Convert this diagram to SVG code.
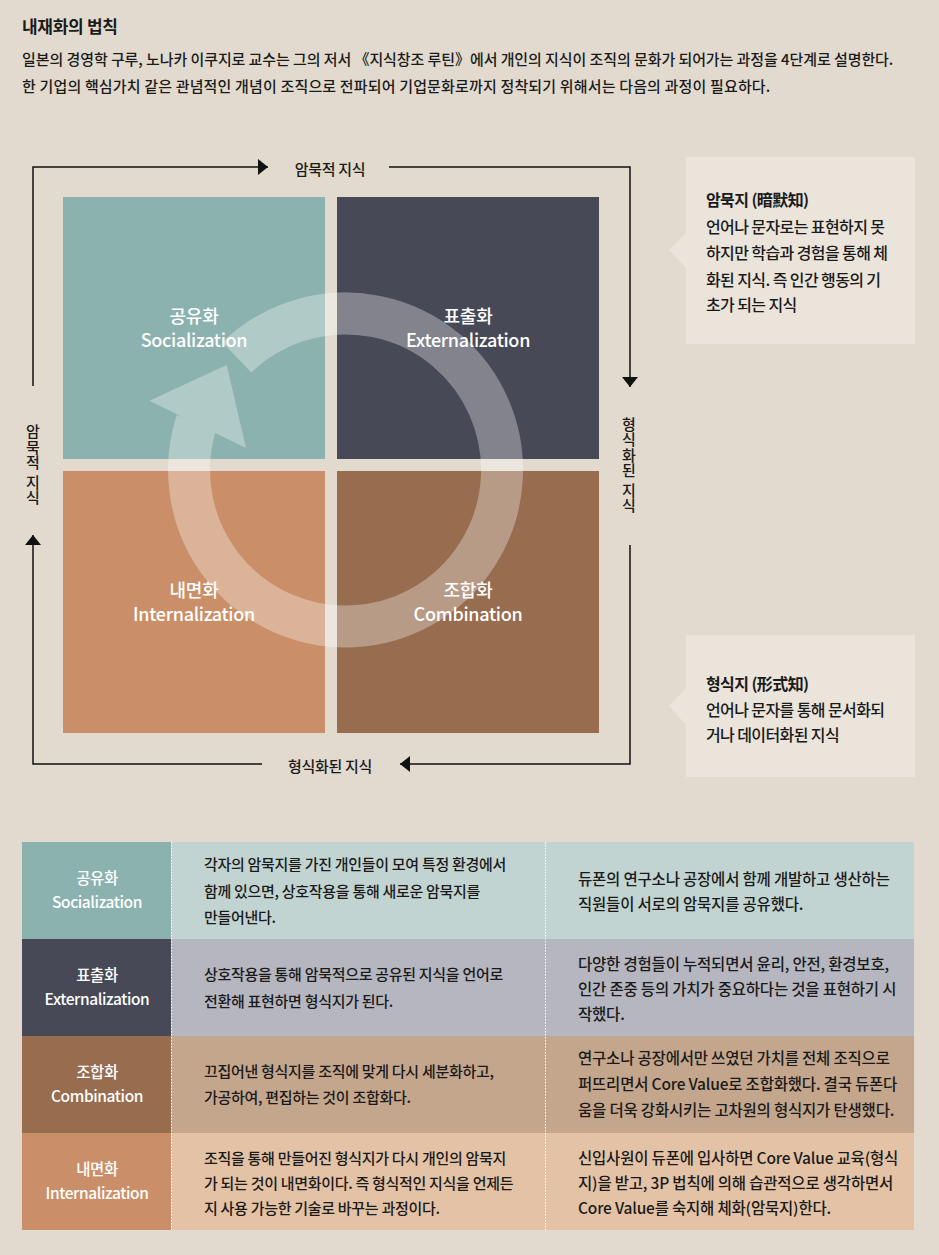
<svg xmlns="http://www.w3.org/2000/svg" width="939" height="1255" viewBox="0 0 939 1255">
<style>
text{font-family:"Noto Sans CJK KR","Noto Sans",sans-serif;fill:#1a1a1a;font-weight:500;letter-spacing:-0.3px}
.t{font-size:15px}
.co{font-size:16px;letter-spacing:-0.6px}
.b{font-weight:bold}
.w{fill:#fff;text-anchor:middle}
.q{font-size:18px;letter-spacing:-0.3px}
.tl{font-size:15.5px;letter-spacing:-0.4px}
.c2{font-size:15px;letter-spacing:-0.3px}
.c3{font-size:15.5px;letter-spacing:-0.2px}
.v{writing-mode:vertical-rl;text-anchor:middle;font-size:15px;letter-spacing:0.5px}
.ln{stroke:#111;stroke-width:1.5;fill:none}
.sep{stroke:#fff;stroke-width:1;stroke-dasharray:1.5 1.5}
</style>
<defs>
<marker id="ah" viewBox="0 0 10 16" refX="10" refY="8" markerWidth="10" markerHeight="16" markerUnits="userSpaceOnUse" orient="auto"><path d="M0,0L10,8L0,16Z" fill="#111"/></marker>
</defs>
<rect width="939" height="1255" fill="#E2DACE"/>
<g id="header">
<text x="22" y="33" class="b" style="font-size:17px">내재화의 법칙</text>
<text x="22" y="65" class="t" textLength="871">일본의 경영학 구루, 노나카 이쿠지로 교수는 그의 저서 《지식창조 루틴》에서 개인의 지식이 조직의 문화가 되어가는 과정을 4단계로 설명한다.</text>
<text x="22" y="92" class="t" textLength="748">한 기업의 핵심가치 같은 관념적인 개념이 조직으로 전파되어 기업문화로까지 정착되기 위해서는 다음의 과정이 필요하다.</text>
</g>
<g id="connectors">
<path class="ln" d="M33,386V167H268" marker-end="url(#ah)"/>
<path class="ln" d="M389,167H630V387" marker-end="url(#ah)"/>
<path class="ln" d="M630,545V764H400" marker-end="url(#ah)"/>
<path class="ln" d="M262,764H33V535" marker-end="url(#ah)"/>
<text x="330" y="175" class="t" text-anchor="middle">암묵적 지식</text>
<text x="330" y="772" class="t" text-anchor="middle">형식화된 지식</text>
<text x="33" y="465" class="v">암묵적 지식</text>
<text x="629" y="465" class="v">형식화된 지식</text>
</g>
<g id="socialization">
<rect x="63" y="197" width="262" height="262" fill="#8BB2AE"/>
<text x="194" y="323" class="w q">공유화</text>
<text x="194" y="347" class="w q">Socialization</text>
</g>
<g id="externalization">
<rect x="337" y="197" width="262" height="262" fill="#474956"/>
<text x="468" y="323" class="w q">표출화</text>
<text x="468" y="347" class="w q">Externalization</text>
</g>
<g id="internalization">
<rect x="63" y="471" width="262" height="262" fill="#CA8F68"/>
<text x="194" y="597" class="w q">내면화</text>
<text x="194" y="621" class="w q">Internalization</text>
</g>
<g id="combination">
<rect x="337" y="471" width="262" height="262" fill="#976C4F"/>
<text x="468" y="597" class="w q">조합화</text>
<text x="468" y="621" class="w q">Combination</text>
</g>
<g id="cycle" opacity="0.32">
<path d="M236.8,357.4A156.5,156.5 0 1 1 196.7,421.6" fill="none" stroke="#fff" stroke-width="42"/>
<polygon points="226.7,365 149.3,400.7 246,448" fill="#fff"/>
</g>
<g id="callout-tacit">
<path d="M686,157H915V344H686V268L669,250L686,233Z" fill="#EAE4DB"/>
<text x="706" y="206" class="co b">암묵지 (暗默知)</text>
<text x="706" y="233" class="co">언어나 문자로는 표현하지 못</text>
<text x="706" y="259" class="co">하지만 학습과 경험을 통해 체</text>
<text x="706" y="286" class="co">화된 지식. 즉 인간 행동의 기</text>
<text x="706" y="311" class="co">초가 되는 지식</text>
</g>
<g id="callout-explicit">
<path d="M686,635H915V777H686V725L669,706L686,688Z" fill="#EAE4DB"/>
<text x="706" y="690" class="co b">형식지 (形式知)</text>
<text x="706" y="716" class="co">언어나 문자를 통해 문서화되</text>
<text x="706" y="741" class="co">거나 데이터화된 지식</text>
</g>
<g id="table">
<rect x="22" y="842" width="149" height="97" fill="#8BB2AE"/>
<rect x="171" y="842" width="743" height="97" fill="#C2D4D1"/>
<rect x="22" y="939" width="149" height="97" fill="#474956"/>
<rect x="171" y="939" width="743" height="97" fill="#B5B6BF"/>
<rect x="22" y="1036" width="149" height="97" fill="#976C4F"/>
<rect x="171" y="1036" width="743" height="97" fill="#C4A68D"/>
<rect x="22" y="1133" width="149" height="97" fill="#CA8F68"/>
<rect x="171" y="1133" width="743" height="97" fill="#E3C2A5"/>
<line class="sep" x1="171.5" y1="842" x2="171.5" y2="1230"/>
<line class="sep" x1="545.5" y1="842" x2="545.5" y2="1230"/>
<text x="97" y="884" class="w tl">공유화</text>
<text x="97" y="908" class="w tl">Socialization</text>
<text x="97" y="981" class="w tl">표출화</text>
<text x="97" y="1005" class="w tl">Externalization</text>
<text x="97" y="1078" class="w tl">조합화</text>
<text x="97" y="1102" class="w tl">Combination</text>
<text x="97" y="1175" class="w tl">내면화</text>
<text x="97" y="1199" class="w tl">Internalization</text>
<text x="204" y="870" class="c2">각자의 암묵지를 가진 개인들이 모여 특정 환경에서</text>
<text x="204" y="897" class="c2">함께 있으면, 상호작용을 통해 새로운 암묵지를</text>
<text x="204" y="923" class="c2">만들어낸다.</text>
<text x="578" y="885" class="c3">듀폰의 연구소나 공장에서 함께 개발하고 생산하는</text>
<text x="578" y="910" class="c3">직원들이 서로의 암묵지를 공유했다.</text>
<text x="204" y="980" class="c2">상호작용을 통해 암묵적으로 공유된 지식을 언어로</text>
<text x="204" y="1007" class="c2">전환해 표현하면 형식지가 된다.</text>
<text x="578" y="970" class="c3">다양한 경험들이 누적되면서 윤리, 안전, 환경보호,</text>
<text x="578" y="995" class="c3">인간 존중 등의 가치가 중요하다는 것을 표현하기 시</text>
<text x="578" y="1020" class="c3">작했다.</text>
<text x="204" y="1077" class="c2">끄집어낸 형식지를 조직에 맞게 다시 세분화하고,</text>
<text x="204" y="1103" class="c2">가공하여, 편집하는 것이 조합화다.</text>
<text x="578" y="1064" class="c3">연구소나 공장에서만 쓰였던 가치를 전체 조직으로</text>
<text x="578" y="1090" class="c3">퍼뜨리면서 Core Value로 조합화했다. 결국 듀폰다</text>
<text x="578" y="1116" class="c3">움을 더욱 강화시키는 고차원의 형식지가 탄생했다.</text>
<text x="204" y="1164" class="c2">조직을 통해 만들어진 형식지가 다시 개인의 암묵지</text>
<text x="204" y="1189" class="c2">가 되는 것이 내면화이다. 즉 형식적인 지식을 언제든</text>
<text x="204" y="1214" class="c2">지 사용 가능한 기술로 바꾸는 과정이다.</text>
<text x="578" y="1164" class="c3">신입사원이 듀폰에 입사하면 Core Value 교육(형식</text>
<text x="578" y="1189" class="c3">지)을 받고, 3P 법칙에 의해 습관적으로 생각하면서</text>
<text x="578" y="1214" class="c3">Core Value를 숙지해 체화(암묵지)한다.</text>
</g>
</svg>
